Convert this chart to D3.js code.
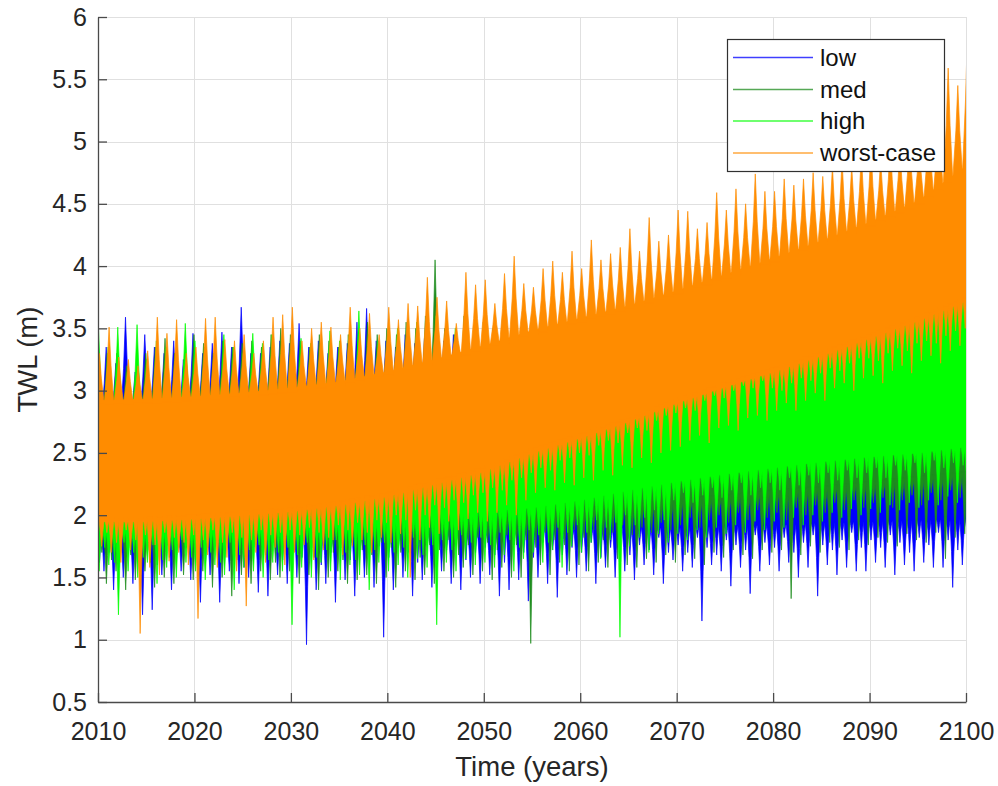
<!DOCTYPE html>
<html><head><meta charset="utf-8">
<script src="https://cdn.jsdelivr.net/npm/d3@7"></script>
<style>
body{margin:0;background:#fff}
text{font-family:Arial,"Liberation Sans",Helvetica,sans-serif}
</style>
</head><body>
<svg id="c" width="998" height="786"></svg>
<script>
// ---------------- data ----------------
const seriesNames = ["low", "med", "high", "worst-case"];
const seriesColors = ["#0000ff", "#1e8c1e", "#00ff00", "#ff8c00"];
const xTickValues = [2010, 2020, 2030, 2040, 2050, 2060, 2070, 2080, 2090, 2100];
const yTickValues = [0.5, 1, 1.5, 2, 2.5, 3, 3.5, 4, 4.5, 5, 5.5, 6];

// 5-year knots for the dense core band of each series
const years5 = [2010,2015,2020,2025,2030,2035,2040,2045,2050,2055,2060,2065,2070,2075,2080,2085,2090,2095,2100];
const lowCoreHi  = [2.80,2.80,2.82,2.82,2.84,2.85,2.85,2.86,2.87,2.88,2.88,2.90,2.90,2.92,2.93,2.95,2.95,2.97,2.98];
const lowCoreLo  = [1.85,1.85,1.85,1.86,1.87,1.87,1.88,1.88,1.88,1.90,1.90,1.90,1.90,1.92,1.92,1.94,1.95,1.96,1.97];
const medCoreHi  = [2.80,2.82,2.85,2.86,2.87,2.88,2.90,2.92,2.95,2.97,3.00,3.02,3.05,3.10,3.15,3.20,3.25,3.30,3.35];
const medCoreLo  = [1.87,1.87,1.88,1.88,1.89,1.90,1.92,1.94,1.96,2.00,2.03,2.06,2.10,2.13,2.17,2.20,2.24,2.28,2.32];
const highCoreHi = [2.80,2.80,2.85,2.85,2.88,2.90,2.92,2.95,3.00,3.05,3.10,3.15,3.20,3.28,3.35,3.45,3.55,3.62,3.70];
const highCoreLo = [1.88,1.88,1.89,1.90,1.92,1.95,1.97,2.00,2.03,2.06,2.12,2.20,2.27,2.33,2.38,2.43,2.47,2.50,2.55];
const worstCoreHi= [2.92,2.93,2.95,2.98,3.02,3.07,3.15,3.25,3.36,3.48,3.58,3.68,3.80,3.93,4.06,4.20,4.35,4.52,4.80];
const worstCoreLo= [1.95,1.95,1.97,2.00,2.03,2.08,2.15,2.25,2.35,2.50,2.62,2.75,2.90,3.03,3.15,3.28,3.42,3.56,3.72];

// annual maxima / minima (and a secondary minimum), 2010 ... 2100
const years = d3.range(2010, 2101);
const lowPeak = [
 3.30,3.35,3.22,3.59,3.15,3.45,3.35,3.30,3.40,3.25,
 3.46,3.30,3.38,3.47,3.35,3.67,3.30,3.30,3.35,3.40,
 3.38,3.54,3.35,3.40,3.30,3.35,3.38,3.55,3.66,3.40,
 3.40,3.35,3.45,3.38,3.42,3.35,3.40,3.45,3.38,3.42,
 3.35,3.40,3.38,3.30,3.42,3.35,3.38,3.32,3.40,3.35,
 3.38,3.30,3.35,3.40,3.32,3.38,3.35,3.30,3.36,3.40,
 3.35,3.32,3.38,3.30,3.36,3.40,3.34,3.38,3.32,3.36,
 3.40,3.35,3.38,3.42,3.36,3.40,3.38,3.44,3.36,3.40,
 3.42,3.38,3.45,3.40,3.44,3.38,3.46,3.42,3.40,3.45,
 3.40];
const lowTrough = [
 1.45,1.55,1.40,1.50,1.45,1.20,1.24,1.52,1.40,1.55,
 1.48,1.30,1.52,1.30,1.55,1.45,1.50,1.38,1.35,1.52,
 1.45,1.50,0.96,1.40,1.45,1.30,1.48,1.35,1.50,1.42,
 1.02,1.40,1.50,1.35,1.48,1.42,1.55,1.45,1.40,1.50,
 1.45,1.52,1.35,1.40,1.48,1.31,1.50,1.45,1.34,1.52,
 1.50,1.55,1.45,1.58,1.50,1.55,1.48,1.60,1.52,1.45,
 1.64,1.55,1.58,1.15,1.60,1.55,1.43,1.58,1.37,1.55,
 1.60,1.55,1.62,1.50,1.58,1.35,1.60,1.52,1.58,1.55,
 1.55,1.62,1.58,1.52,1.60,1.55,1.62,1.58,1.58,1.42,
 1.60];
const lowTrough2 = [
 1.62,1.70,1.58,1.75,1.66,1.72,1.60,1.78,1.68,1.74,
 1.70,1.62,1.76,1.66,1.72,1.58,1.74,1.68,1.78,1.64,
 1.72,1.66,1.74,1.60,1.70,1.76,1.64,1.72,1.68,1.75,
 1.66,1.74,1.70,1.62,1.76,1.68,1.72,1.78,1.64,1.70,
 1.74,1.68,1.62,1.76,1.70,1.66,1.78,1.72,1.68,1.74,
 1.70,1.78,1.66,1.74,1.80,1.68,1.76,1.72,1.82,1.70,
 1.76,1.70,1.82,1.74,1.68,1.80,1.76,1.72,1.84,1.78,
 1.74,1.82,1.70,1.78,1.84,1.76,1.72,1.80,1.86,1.74,
 1.80,1.74,1.84,1.78,1.70,1.82,1.76,1.86,1.80,1.72,
 1.80];
const medPeak = [
 3.55,3.30,3.30,3.20,3.15,3.30,3.35,3.42,3.30,3.25,
 3.45,3.38,3.30,3.40,3.35,3.38,3.40,3.35,3.45,3.50,
 3.45,3.40,3.35,3.45,3.40,3.35,3.45,3.40,3.55,3.45,
 3.50,3.45,3.55,3.50,3.60,4.05,3.50,3.45,3.60,3.50,
 3.55,3.50,3.60,3.55,3.50,3.58,3.55,3.60,3.52,3.62,
 3.55,3.60,3.58,3.62,3.55,3.65,3.60,3.62,3.58,3.65,
 3.62,3.65,3.60,3.68,3.62,3.70,3.65,3.68,3.72,3.66,
 3.70,3.68,3.72,3.75,3.70,3.74,3.78,3.72,3.76,3.80,
 3.78,3.82,3.80,3.85,3.82,3.88,3.84,3.90,3.86,3.92,
 3.90];
const medTrough = [
 1.50,1.45,1.55,1.40,1.48,1.55,1.42,1.50,1.45,1.52,
 1.48,1.55,1.42,1.50,1.35,1.52,1.45,1.55,1.48,1.50,
 1.55,1.45,1.52,1.40,1.50,1.55,1.45,1.48,1.52,1.45,
 1.50,1.42,1.55,1.48,1.52,1.45,1.55,1.50,1.58,1.52,
 1.55,1.48,1.58,1.50,1.50,0.97,1.60,1.52,1.62,1.55,
 1.60,1.55,1.62,1.58,1.65,1.60,1.58,1.65,1.62,1.68,
 1.62,1.68,1.65,1.60,1.70,1.66,1.72,1.68,1.65,1.72,
 1.70,1.72,1.33,1.68,1.75,1.70,1.78,1.74,1.72,1.80,
 1.76,1.82,1.78,1.75,1.85,1.80,1.78,1.86,1.65,1.82,
 1.85];
const medTrough2 = [
 1.70,1.64,1.76,1.68,1.72,1.62,1.78,1.66,1.74,1.70,
 1.66,1.74,1.70,1.78,1.64,1.72,1.76,1.68,1.62,1.74,
 1.72,1.78,1.66,1.74,1.70,1.64,1.76,1.72,1.68,1.78,
 1.74,1.70,1.78,1.66,1.76,1.72,1.80,1.68,1.76,1.82,
 1.78,1.72,1.84,1.76,1.80,1.74,1.86,1.80,1.76,1.88,
 1.82,1.88,1.80,1.86,1.92,1.84,1.90,1.86,1.94,1.88,
 1.92,1.98,1.90,1.96,2.00,1.94,2.02,1.96,2.04,1.98,
 2.02,1.96,2.06,2.00,2.08,2.02,2.10,2.04,2.12,2.06,
 2.10,2.14,2.06,2.12,2.16,2.08,2.18,2.12,2.20,2.14,
 2.16];
const highPeak = [
 3.50,3.35,3.51,3.15,3.53,3.25,3.40,3.35,3.30,3.54,
 3.40,3.35,3.30,3.45,3.35,3.30,3.46,3.38,3.45,3.40,
 3.40,3.42,3.38,3.35,3.48,3.40,3.45,3.64,3.45,3.40,
 3.45,3.50,3.40,3.55,3.50,3.60,3.45,3.50,3.55,3.50,
 3.55,3.48,3.60,3.55,3.50,3.58,3.62,3.55,3.60,3.65,
 3.58,3.62,3.60,3.68,3.65,3.70,3.62,3.72,3.68,3.70,
 3.75,3.70,3.72,3.78,3.75,3.80,3.76,3.82,3.80,3.78,
 3.85,3.80,3.83,3.88,3.82,3.86,3.90,3.85,3.92,3.88,
 3.95,3.92,3.98,3.95,4.02,3.98,4.05,4.10,4.17,4.06,
 4.15];
const highTrough = [
 1.55,1.60,1.20,1.55,1.50,1.62,1.45,1.58,1.50,1.62,
 1.55,1.48,1.60,1.52,1.40,1.58,1.55,1.50,1.62,1.55,
 1.12,1.58,1.50,1.62,1.55,1.48,1.60,1.52,1.40,1.62,
 1.55,1.60,1.50,1.65,1.58,1.12,1.62,1.55,1.65,1.60,
 1.62,1.58,1.68,1.55,1.65,1.70,1.62,1.72,1.58,1.75,
 1.70,1.78,1.65,1.80,1.02,1.75,1.82,1.70,1.85,1.78,
 1.85,1.80,1.88,1.82,1.90,1.85,1.92,1.86,1.95,1.88,
 1.95,1.90,1.98,1.92,2.00,1.95,2.02,1.98,2.05,2.00,
 2.05,2.02,2.08,2.04,2.10,2.06,2.12,2.08,2.15,2.10,
 2.12];
const highTrough2 = [
 1.68,1.74,1.62,1.78,1.70,1.66,1.76,1.64,1.72,1.80,
 1.66,1.74,1.70,1.62,1.78,1.68,1.72,1.76,1.64,1.70,
 1.74,1.68,1.78,1.66,1.72,1.80,1.70,1.64,1.76,1.72,
 1.78,1.70,1.74,1.82,1.68,1.76,1.80,1.72,1.84,1.78,
 1.82,1.76,1.86,1.80,1.74,1.88,1.84,1.78,1.90,1.86,
 1.92,1.86,1.96,1.90,1.94,2.00,1.92,1.98,2.04,1.96,
 2.12,2.18,2.10,2.16,2.22,2.14,2.20,2.26,2.16,2.22,
 2.26,2.20,2.30,2.24,2.32,2.26,2.34,2.28,2.36,2.30,
 2.34,2.38,2.30,2.40,2.36,2.42,2.34,2.44,2.38,2.42,
 2.40];
const worstPeak = [
 3.30,3.51,3.27,3.25,3.20,3.32,3.59,3.46,3.57,3.30,
 3.35,3.58,3.59,3.41,3.40,3.45,3.30,3.40,3.59,3.61,
 3.67,3.40,3.50,3.55,3.51,3.45,3.67,3.50,3.62,3.45,
 3.67,3.57,3.70,3.68,3.91,3.75,3.72,3.54,3.95,3.85,
 3.89,3.70,3.94,4.08,3.86,3.83,3.98,4.04,3.95,4.12,
 3.98,4.21,4.05,4.10,4.15,4.30,4.12,4.39,4.20,4.25,
 4.45,4.44,4.30,4.35,4.59,4.45,4.62,4.50,4.74,4.60,
 4.60,4.70,4.65,4.70,4.75,4.72,4.80,4.85,4.80,4.90,
 4.95,4.85,5.00,4.95,5.05,5.00,5.15,5.20,5.59,5.45,
 5.89];
const worstTrough = [
 1.75,1.70,1.62,1.72,1.05,1.58,1.52,1.63,1.70,1.60,
 1.17,1.68,1.58,1.66,1.55,1.27,1.70,1.62,1.74,1.60,
 1.70,1.76,1.64,1.72,1.80,1.68,1.75,1.80,1.70,1.82,
 1.78,1.85,1.50,1.80,1.90,1.85,1.95,1.88,1.97,2.02,
 1.95,2.02,2.08,2.00,2.12,2.18,2.22,2.20,2.26,2.24,
 2.30,2.28,2.36,2.32,2.40,2.38,2.46,2.42,2.50,2.52,
 2.55,2.60,2.64,2.58,2.70,2.72,2.68,2.78,2.80,2.76,
 2.84,2.90,2.84,2.92,2.98,2.92,3.02,3.06,3.00,3.10,
 3.12,3.06,3.16,3.20,3.14,3.24,3.28,3.22,3.32,3.36,
 3.40];
const worstTrough2 = [
 1.82,1.86,1.78,1.88,1.80,1.84,1.76,1.86,1.82,1.78,
 1.84,1.80,1.88,1.78,1.86,1.82,1.80,1.88,1.84,1.86,
 1.88,1.84,1.90,1.86,1.82,1.92,1.88,1.94,1.86,1.96,
 1.94,2.00,1.96,2.04,2.00,2.08,2.06,2.12,2.10,2.16,
 2.18,2.22,2.20,2.28,2.30,2.34,2.38,2.36,2.44,2.46,
 2.50,2.48,2.56,2.60,2.58,2.66,2.70,2.68,2.76,2.80,
 2.82,2.86,2.84,2.92,2.96,2.94,3.00,3.04,3.02,3.08,
 3.02,3.00,3.06,3.10,3.08,3.14,3.18,3.16,3.22,3.26,
 3.26,3.24,3.30,3.34,3.32,3.38,3.40,3.38,3.44,3.48,
 3.50];

const seriesData = [
  {peak: lowPeak,   trough: lowTrough,   trough2: lowTrough2,   hi: lowCoreHi,   lo: lowCoreLo},
  {peak: medPeak,   trough: medTrough,   trough2: medTrough2,   hi: medCoreHi,   lo: medCoreLo},
  {peak: highPeak,  trough: highTrough,  trough2: highTrough2,  hi: highCoreHi,  lo: highCoreLo},
  {peak: worstPeak, trough: worstTrough, trough2: worstTrough2, hi: worstCoreHi, lo: worstCoreLo}
];

// ---------------- layout ----------------
const L = 98, R = 966, T = 17, B = 702;
const ink = "#262626";
const svg = d3.select("#c");
const x = d3.scaleLinear().domain([2010, 2100]).range([L, R]);
const y = d3.scaleLinear().domain([0.5, 6]).range([B, T]);

svg.append("defs").append("clipPath").attr("id", "clip")
  .append("rect").attr("x", L).attr("y", T).attr("width", R - L).attr("height", B - T);

// grid
const grid = svg.append("g").attr("stroke", "#e0e0e0").attr("stroke-width", 1);
xTickValues.forEach(v => grid.append("line")
  .attr("x1", Math.round(x(v)) + 0.5).attr("x2", Math.round(x(v)) + 0.5)
  .attr("y1", T).attr("y2", B));
yTickValues.forEach(v => grid.append("line")
  .attr("x1", L).attr("x2", R)
  .attr("y1", Math.round(y(v)) + 0.5).attr("y2", Math.round(y(v)) + 0.5));

// data
const plot = svg.append("g").attr("clip-path", "url(#clip)");
const upOffset = [-0.15, -0.05, 0.05, 0.15];
const dnOffset = [-0.38, -0.13, 0.12, 0.37];
const dnOffset2 = [0.15, 0.4, -0.3, -0.08];
const upHalf = 0.5, dnHalf = 0.3, dnHalf2 = 0.25;
const lineGen = d3.line().x(d => x(d[0])).y(d => y(d[1]));

// one tooth: sharp tip, concave flanks, base merged into the band
function tooth(xc, tip, base, half) {
  const mid = base + 0.5 * (tip - base);
  return [[xc, tip], [xc + 0.4 * half, mid], [xc + half, base],
          [xc - half, base], [xc - 0.4 * half, mid]];
}

seriesData.forEach((s, i) => {
  const col = seriesColors[i];
  const g = plot.append("g").attr("fill", col).attr("stroke", col).attr("stroke-width", 0.7);
  const hiAt = d3.scaleLinear().domain(years5).range(s.hi);
  const loAt = d3.scaleLinear().domain(years5).range(s.lo);
  const core = years5.map((yr, k) => ({yr, lo: s.lo[k], hi: s.hi[k]}));
  g.append("path").datum(core)
    .attr("d", d3.area().x(d => x(d.yr)).y0(d => y(d.lo)).y1(d => y(d.hi)));
  years.forEach((yr, k) => {
    const xu = yr + upOffset[i];
    const bu = hiAt(xu) - 0.03;
    if (s.peak[k] > bu) g.append("path").attr("d", lineGen(tooth(xu, s.peak[k], bu, upHalf)) + "Z");
    const xd = yr + dnOffset[i];
    const bd = loAt(xd) + 0.03;
    if (s.trough[k] < bd) g.append("path").attr("d", lineGen(tooth(xd, s.trough[k], bd, dnHalf)) + "Z");
    if (s.trough2) {
      const xd2 = yr + dnOffset2[i];
      const bd2 = loAt(xd2) + 0.03;
      if (s.trough2[k] < bd2) g.append("path").attr("d", lineGen(tooth(xd2, s.trough2[k], bd2, dnHalf2)) + "Z");
    }
  });
});

// axes
const fmt = d => String(d);
const ax = svg.append("g").attr("transform", `translate(${L},0)`)
  .call(d3.axisLeft(y).tickValues(yTickValues).tickFormat(fmt).tickSize(-9).tickSizeOuter(0).tickPadding(11));
const bx = svg.append("g").attr("transform", `translate(0,${B})`)
  .call(d3.axisBottom(x).tickValues(xTickValues).tickFormat(fmt).tickSize(-9).tickSizeOuter(0).tickPadding(20));
[ax, bx].forEach(a => {
  a.selectAll("path,line").attr("stroke", "#4a4a4a").attr("stroke-width", 1.3);
  a.selectAll("text").attr("fill", ink).attr("font-size", 25)
    .attr("font-family", "Arial, 'Liberation Sans', sans-serif");
});

// axis titles
svg.append("text").attr("x", (L + R) / 2).attr("y", 776)
  .attr("text-anchor", "middle").attr("font-size", 27.5).attr("fill", ink).text("Time (years)");
svg.append("text").attr("transform", `translate(37,${(T + B) / 2}) rotate(-90)`)
  .attr("text-anchor", "middle").attr("font-size", 27.5).attr("fill", ink).text("TWL (m)");

// legend
const lg = svg.append("g");
lg.append("rect").attr("x", 727.5).attr("y", 39.5).attr("width", 217).attr("height", 132)
  .attr("fill", "#fff").attr("stroke", "#303030").attr("stroke-width", 1.2);
const rowY = [57.5, 89.5, 121, 153];
seriesNames.forEach((n, i) => {
  lg.append("line").attr("x1", 733).attr("x2", 813).attr("y1", rowY[i]).attr("y2", rowY[i])
    .attr("stroke", seriesColors[i]).attr("stroke-width", 1.4).attr("opacity", 0.75);
  lg.append("text").attr("x", 820).attr("y", rowY[i]).attr("dy", "0.35em")
    .attr("font-size", 24).attr("fill", "#111").text(n);
});
</script>
</body></html>
